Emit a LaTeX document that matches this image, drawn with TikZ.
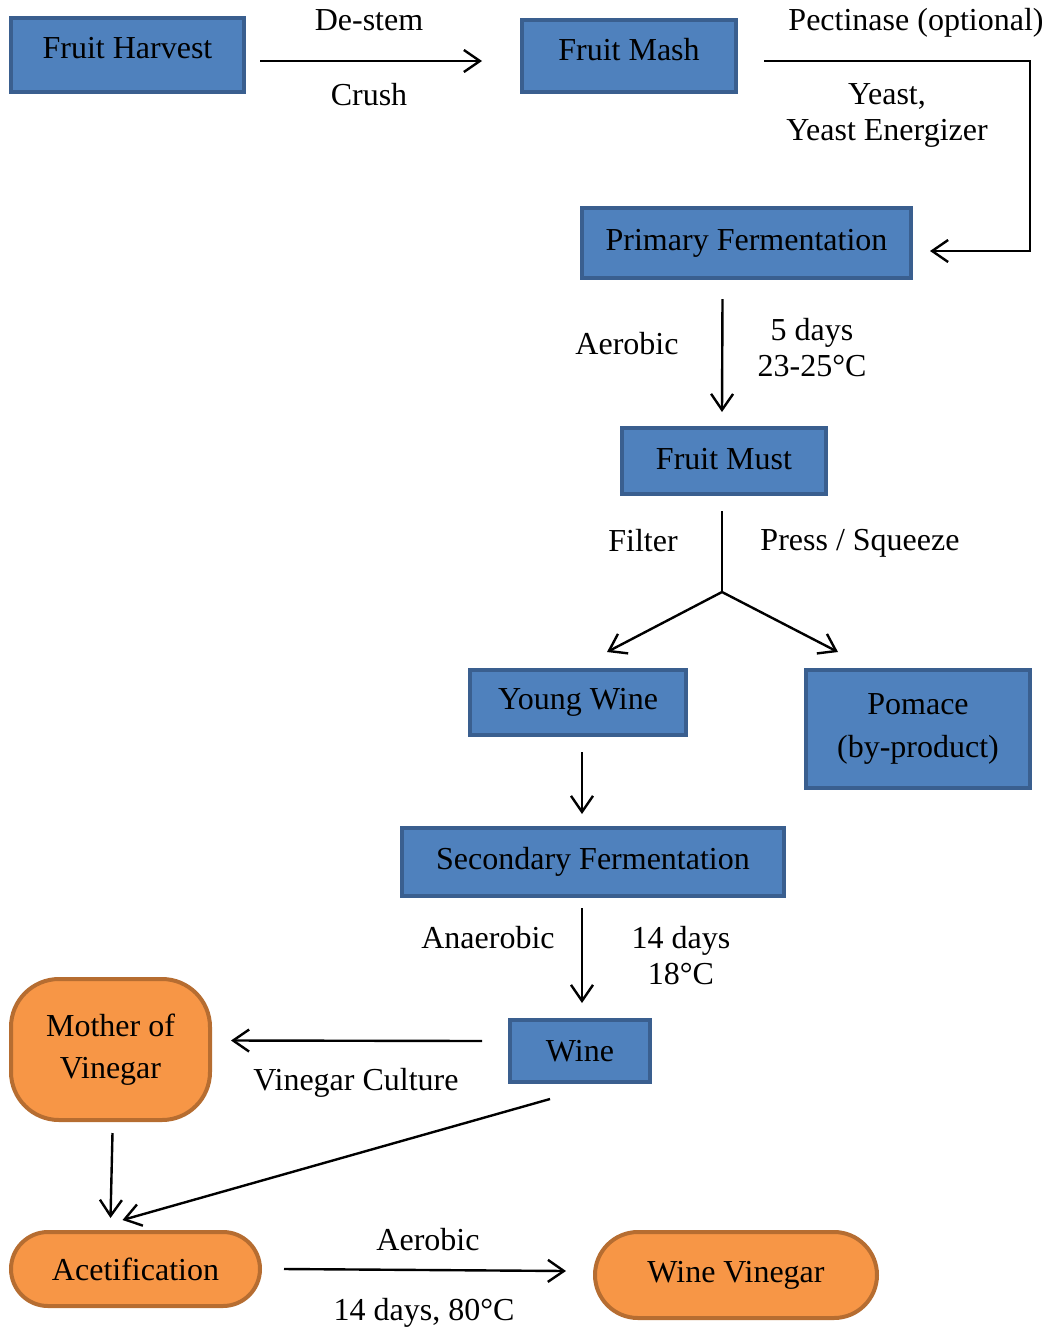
\documentclass[tikz,border=0pt]{standalone}
\usepackage{fontspec}
\setmainfont{Liberation Serif}
\usetikzlibrary{arrows.meta}

\definecolor{stageblue}{HTML}{4F81BD}
\definecolor{stageline}{HTML}{3A5F8F}
\definecolor{vinorange}{HTML}{F79646}
\definecolor{vinline}{HTML}{B66D31}

\tikzset{
  stage/.style={draw=stageline, fill=stageblue, line width=2pt, inner sep=0pt, align=center},
  vinstage/.style={draw=vinline, fill=vinorange, line width=2pt, inner sep=0pt, align=center},
  lbl/.style={inner sep=0pt, align=center},
  arr/.style={-{Straight Barb[length=8pt,width=11pt]}, line width=1.2pt},
}

\begin{document}
\begin{tikzpicture}[x=0.5pt, y=-0.5pt, font=\fontsize{16}{18}\selectfont]
    \useasboundingbox (0,0) rectangle (1048,1328);

    % blue process boxes
    \node[stage, minimum width=116.5pt, minimum height=37pt, text depth=7pt] (harvest) at (127.5,55) {Fruit Harvest};
    \node[stage, minimum width=107pt, minimum height=36pt, text depth=7pt] (mash) at (629,56) {Fruit Mash};
    \node[stage, minimum width=164.5pt, minimum height=35pt] (primary) at (746.5,243) {Primary Fermentation};
    \node[stage, minimum width=102pt, minimum height=33pt, text depth=2pt] (must) at (724,461) {Fruit Must};
    \node[stage, minimum width=108pt, minimum height=32.5pt] (young) at (578,702.5) {Young Wine};
    \node[stage, minimum width=112pt, minimum height=59pt, font=\fontsize{16}{21.5}\selectfont] (pomace) at (918,729) {Pomace\\(by-product)};
    \node[stage, minimum width=191pt, minimum height=34pt] (secondary) at (593,862) {Secondary Fermentation};
    \node[stage, minimum width=70pt, minimum height=31pt] (wine) at (580,1051) {Wine};

    % orange vinegar boxes
    \node[vinstage, minimum width=99.5pt, minimum height=70.5pt, rounded corners=24pt, font=\fontsize{16}{21}\selectfont] (mother) at (110.5,1049.5) {Mother of\\Vinegar};
    \node[vinstage, minimum width=124.5pt, minimum height=37pt, rounded corners=18.5pt] (acet) at (135.5,1269) {Acetification};
    \node[vinstage, minimum width=141pt, minimum height=43pt, rounded corners=21.5pt] (vinegar) at (736,1275) {Wine Vinegar};

    % labels
    \node[lbl] (destem) at (369,20) {De-stem};
    \node[lbl] (crush) at (369,95) {Crush};
    \node[lbl] (pectin) at (916,23) {Pectinase (optional)};
    \node[lbl] (yeast) at (887,115) {Yeast,\\Yeast Energizer};
    \node[lbl] (aerobic1) at (627,344) {Aerobic};
    \node[lbl] (days5) at (812,348) {5 days\\23-25°C};
    \node[lbl] (filter) at (643,541) {Filter};
    \node[lbl] (press) at (860,543) {Press / Squeeze};
    \node[lbl] (anaerobic) at (488,938) {Anaerobic};
    \node[lbl] (days14) at (681,956) {14 days\\18°C};
    \node[lbl] (culture) at (356,1083) {Vinegar Culture};
    \node[lbl] (aerobic2) at (428,1240) {Aerobic};
    \node[lbl] (days80) at (424,1313) {14 days, 80°C};

    % helper points
    \coordinate (bend) at (1030,61);
    \coordinate (split) at (722,592);

    % connectors
    \draw[arr] ([xshift=7pt,yshift=-3pt]harvest.east) -- ([xshift=-19pt,yshift=-2.5pt]mash.west);
    \draw[arr] ([xshift=13pt,yshift=-2.5pt]mash.east) -- (bend) |- ([xshift=8.5pt,yshift=-4pt]primary.east);
    \draw[arr] ([xshift=-12pt,yshift=-9.5pt]primary.south) -- ([xshift=-1pt,yshift=7pt]must.north);
    \draw[line width=1.2pt] ([xshift=-1pt,yshift=-7.5pt]must.south) -- (split);
    \draw[arr] (split) -- ([xshift=14.5pt,yshift=8pt]young.north);
    \draw[arr] (split) -- ([xshift=-40pt,yshift=8pt]pomace.north);
    \draw[arr] ([xshift=2pt,yshift=-7.5pt]young.south) -- ([xshift=-5.5pt,yshift=6pt]secondary.north);
    \draw[arr] ([xshift=-5.5pt,yshift=-5pt]secondary.south) -- ([xshift=1pt,yshift=7.5pt]wine.north);
    \draw[arr] ([xshift=-13pt,yshift=5pt]wine.west) -- ([xshift=9.5pt,yshift=4.5pt]mother.east);
    \draw[arr] ([xshift=1pt,yshift=-5.5pt]mother.south) -- ([xshift=-12.5pt,yshift=6pt]acet.north);
    \draw[arr] ([xshift=-15pt,yshift=-7.5pt]wine.south) -- ([xshift=-6.5pt,yshift=5pt]acet.north);
    \draw[arr] ([xshift=11pt]acet.east) -- ([xshift=-13.5pt,yshift=2pt]vinegar.west);
\end{tikzpicture}
\end{document}
